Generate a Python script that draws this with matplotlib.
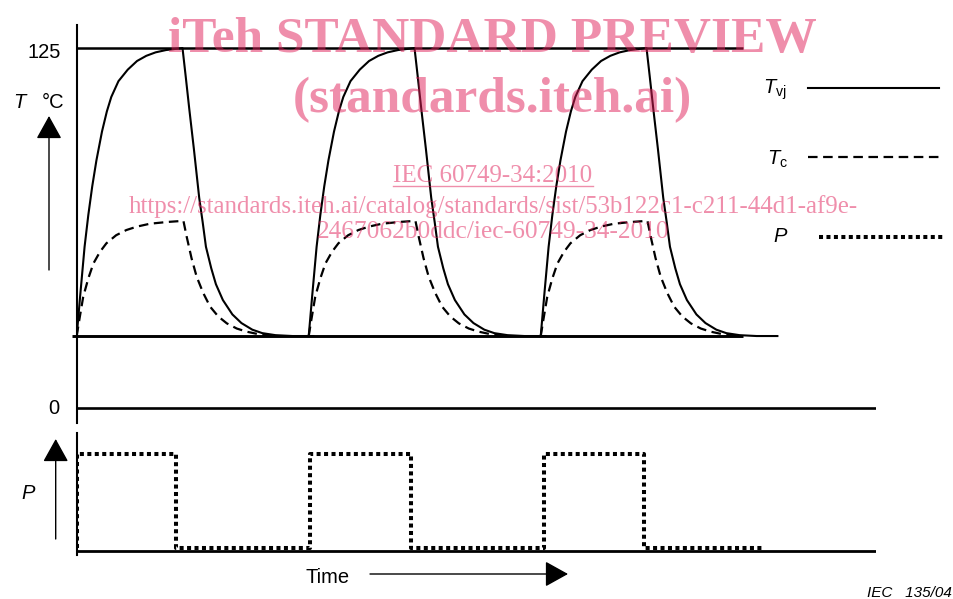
import matplotlib
matplotlib.use("Agg")
import matplotlib.pyplot as plt
from matplotlib.lines import Line2D
from matplotlib.patches import ArrowStyle

plt.rcParams['font.family'] = ['Liberation Sans', 'DejaVu Sans']
plt.rcParams['mathtext.fontset'] = 'custom'
plt.rcParams['mathtext.rm'] = 'Liberation Sans'
plt.rcParams['mathtext.it'] = 'Liberation Sans:italic'

# one power cycle: time since power-on -> temperature (degC)
tvj_t = [0, 0.15, 0.34, 0.5, 0.67, 0.85, 1.09, 1.3, 1.49, 1.8, 2.2, 2.6, 3.0, 3.4, 3.85, 4.56,
         4.7, 4.85, 5.05, 5.28, 5.43, 5.57, 5.8, 6.0, 6.3, 6.71, 7.1, 7.57, 8.0, 8.57, 9.3, 10.2]
tvj_T = [25, 39, 56, 67, 77, 86, 96, 103, 108, 113.5, 117.5, 120.5, 122.3, 123.5, 124.3, 125,
         115, 104, 90, 73, 64.5, 56, 48.5, 43, 37.5, 32.5, 29.5, 27.2, 26, 25.3, 25, 25]
tc_t = [0, 0.1, 0.28, 0.5, 0.72, 1.0, 1.28, 1.7, 2.14, 2.6, 3.16, 3.9, 4.6,
        4.74, 4.95, 5.17, 5.45, 5.75, 6.1, 6.47, 6.9, 7.33, 7.8, 8.19, 8.6]
tc_T = [25, 30, 38.6, 45, 50.2, 54.2, 57.2, 60, 61.8, 63, 64, 64.6, 65,
        59.5, 52, 45.6, 40, 35.2, 31.8, 29.4, 27.6, 26.5, 25.7, 25.3, 25]
cycle_starts = [0.0, 10.0, 20.0]

# power pulses (step corners)
p_t = [0, 0, 4.3, 10.05, 14.4, 20.15, 24.45, 29.6]
p_level = [0.03, 1, 0.03, 1, 0.03, 1, 0.03, 0.03]

t_max = 125
t_amb = 25
ref_end = 28.7

W, H = 954, 599
fig = plt.figure(figsize=(W / 100, H / 100), dpi=100)


def fx(x):
    return x / W


def fy(y):
    return 1 - y / H


ax = fig.add_axes([fx(76.7), fy(423), fx(876) - fx(76.7), fy(25) - fy(423)])
axp = fig.add_axes([fx(76.7), fy(555), fx(876) - fx(76.7), fy(433) - fy(555)])
for a in (ax, axp):
    a.set_xlim(0, 34.45)
    for s in ('top', 'right', 'bottom'):
        a.spines[s].set_visible(False)
    a.spines['left'].set_linewidth(1.5)
    a.set_xticks([])
    a.set_yticks([])
    a.patch.set_alpha(0)
ax.set_ylim(-5.2, 133.0)
axp.set_ylim(-0.041, 1.216)

ax.hlines(t_max, 0, ref_end, color='k', lw=1.8)
ax.hlines(t_amb, -0.2, ref_end, color='k', lw=2.1, clip_on=False)
ax.axhline(0, color='k', lw=1.9)
for s in cycle_starts:
    ax.plot([s + t for t in tvj_t], tvj_T, color='k', lw=1.5)
    ax.plot([s + t for t in tc_t], tc_T, color='k', lw=1.6, ls=(0, (4.3, 2.5)))

axp.axhline(0, color='k', lw=2)
axp.plot(p_t, p_level, color='k', lw=2.9, ls=(0, (1, 0.85)), drawstyle='steps-post')

# legend drawn like the original: label left, line sample right
fig.add_artist(Line2D([fx(808), fx(939)], [fy(88)] * 2, color='k', lw=1.5))
fig.add_artist(Line2D([fx(808), fx(939)], [fy(157)] * 2, color='k', lw=1.6, ls=(0, (4.3, 2.5))))
fig.add_artist(Line2D([fx(819), fx(944)], [fy(237)] * 2, color='k', lw=2.9, ls=(0, (1, 0.85))))
fig.text(fx(763), fy(93.3), r'$T_{\mathrm{vj}}$', size=14.5, va='baseline')
fig.text(fx(766.7), fy(165), r'$T_{\mathrm{c}}$', size=14.5, va='baseline')
fig.text(fx(773), fy(241.7), 'P', size=14.5, style='italic', va='baseline')

# axis texts
fig.text(fx(12.7), fy(107.7), 'T', size=14.5, style='italic', va='baseline')
fig.text(fx(41.7), fy(107.7), '°C', size=14.5, va='baseline')
fig.text(fx(61), fy(57.7), '125', size=14.5, ha='right', va='baseline')
fig.text(fx(59), fy(414), '0', size=14.5, ha='right', va='baseline')
fig.text(fx(21.7), fy(499.3), 'P', size=14.5, style='italic', va='baseline')
fig.text(fx(305), fy(582.7), 'Time', size=14.5, va='baseline')
fig.text(fx(951.7), fy(597), 'IEC   135/04', size=11, style='italic', ha='right', va='baseline')

# arrows
def arrow(x0, y0, x1, y1):
    fig.add_artist(matplotlib.patches.FancyArrowPatch(
        (fx(x0), fy(y0)), (fx(x1), fy(y1)), transform=fig.transFigure,
        arrowstyle=ArrowStyle('-|>', head_length=0.72, head_width=0.4),
        mutation_scale=20, lw=1, color='k', shrinkA=0, shrinkB=0))


arrow(49, 270, 49, 116)
arrow(55.7, 539, 55.7, 439)
arrow(370, 574, 568, 574)

# preview watermark
wm = dict(color=(0.88, 0.12, 0.35), alpha=0.5, family='Liberation Serif', ha='center',
          va='baseline', zorder=10)
fig.text(fx(492), fy(52), 'iTeh STANDARD PREVIEW', size=37, weight='bold', **wm)
fig.text(fx(492), fy(112), '(standards.iteh.ai)', size=37, weight='bold', **wm)
fig.text(fx(493), fy(181.7), 'IEC 60749-34:2010', size=18, **wm)
fig.add_artist(Line2D([fx(393), fx(593)], [fy(185.7)] * 2, color=(0.88, 0.12, 0.35),
                      alpha=0.5, lw=1, zorder=10))
fig.text(fx(493), fy(213.3), 'https://standards.iteh.ai/catalog/standards/sist/53b122c1-c211-44d1-af9e-',
         size=17.9, **wm)
fig.text(fx(493.5), fy(238.3), '2467062b0ddc/iec-60749-34-2010', size=18.3, **wm)

fig.savefig('out.png', dpi=100)
